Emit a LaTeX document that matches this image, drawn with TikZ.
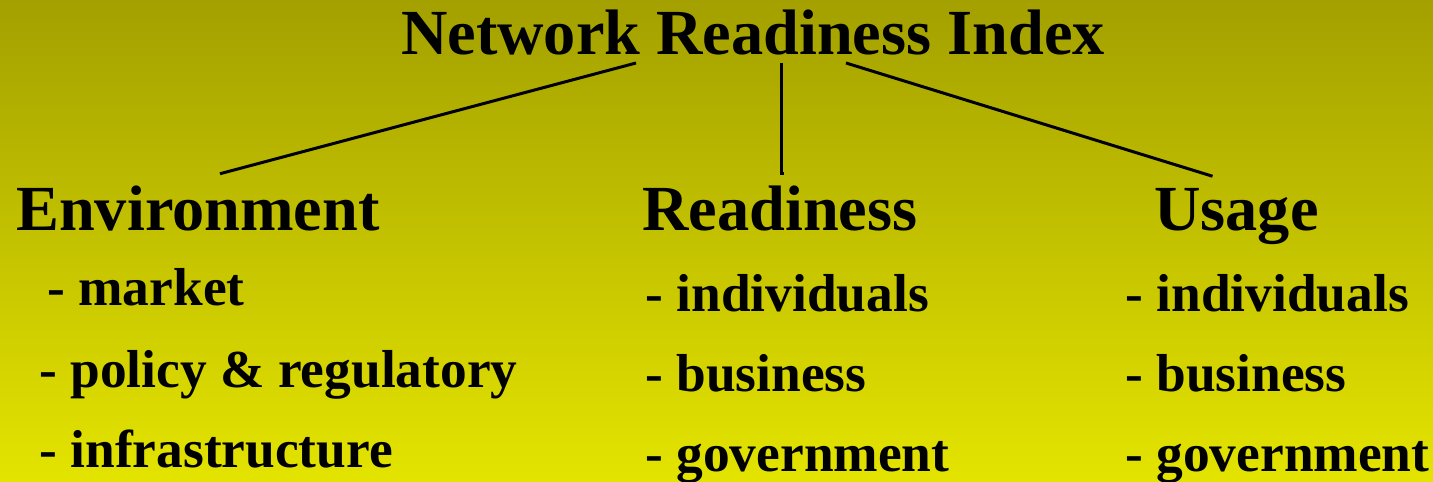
\documentclass[tikz,border=0pt]{standalone}
\usepackage{fontspec}
\setmainfont{Liberation Serif}
\usetikzlibrary{calc,positioning}

\definecolor{olivetop}{RGB}{163,160,0}
\definecolor{yellowbot}{RGB}{228,228,0}

\tikzset{
	head/.style={inner xsep=0pt, inner ysep=7pt, font=\fontsize{36.6}{40}\selectfont\bfseries},
	item/.style={inner sep=0pt, anchor=base west, font=\fontsize{30.4}{34}\selectfont\bfseries},
	branch/.style={line width=1.7pt}
}

\begin{document}
\begin{tikzpicture}[x=0.02cm, y=-0.02cm]
	\shade[top color=olivetop, bottom color=yellowbot] (0,0) rectangle (1433,482);
	\useasboundingbox (0,0) rectangle (1433,482);
	% root and the three pillars
	\node[head, inner ysep=4pt, anchor=base] (nri) at (753,55) {Network Readiness Index};
	\node[head, anchor=base west] (env) at (16,231) {Environment};
	\node[head, anchor=base west] (rdy) at (642,231) {Readiness};
	\node[head, anchor=base west] (use) at (1154,231) {Usage};
	% sub-items
	\node[item] (env1) at (47,306) {- market};
	\node[item] (env2) at (39,388) {- policy \& regulatory};
	\node[item] (env3) at (39,468) {- infrastructure};
	\node[item] (rdy1) at (645,312) {- individuals};
	\node[item] (rdy2) at (645,392) {- business};
	\node[item] (rdy3) at (645,472) {- government};
	\node[item] (use1) at (1125,312) {- individuals};
	\node[item] (use2) at (1125,392) {- business};
	\node[item] (use3) at (1125,472) {- government};
	% branches
	\draw[branch] ($(nri.south)+(-117,0)$) -- ($(env.north)+(22,0)$);
	\draw[branch] ($(nri.south)+(28,0)$) -- (nri.south -| 781,0) |- ($(rdy.north)+(4,0)$);
	\draw[branch] ($(nri.south)+(93,0)$) -- ($(use.north)+(-24,0)$);
\end{tikzpicture}
\end{document}
